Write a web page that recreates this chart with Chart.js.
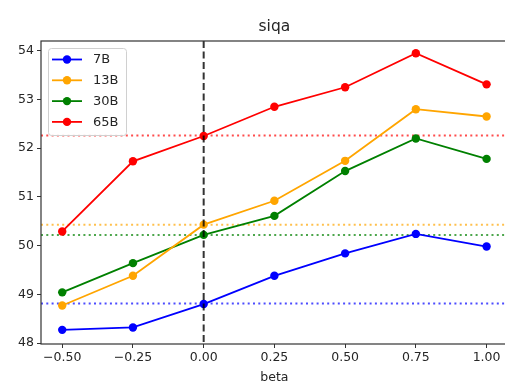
<!DOCTYPE html>
<html>
<head>
<meta charset="utf-8">
<script src="https://cdn.jsdelivr.net/npm/chart.js@4"></script>
<style>
  html, body { margin: 0; padding: 0; background: #fff; overflow: hidden; }
  #wrap { width: 512px; height: 388px; }
</style>
</head>
<body>
<div id="wrap"><canvas id="chart" width="512" height="388"></canvas></div>
<script>
const betas = [-0.5, -0.25, 0, 0.25, 0.5, 0.75, 1.0];
const labels = ["7B", "13B", "30B", "65B"];
const colors = ["#0000ff", "#ffa500", "#008000", "#ff0000"];
const baseColors = ["rgba(0,0,255,0.7)", "rgba(255,165,0,0.7)", "rgba(0,128,0,0.7)", "rgba(255,0,0,0.7)"];

const s7B  = [48.27, 48.32, 48.80, 49.38, 49.84, 50.24, 49.98];
const s13B = [48.77, 49.38, 50.43, 50.92, 51.74, 52.80, 52.65];
const s30B = [49.04, 49.64, 50.22, 50.61, 51.53, 52.20, 51.78];
const s65B = [50.29, 51.73, 52.25, 52.85, 53.25, 53.95, 53.31];
const series = [s7B, s13B, s30B, s65B];

// beta = 0 reference values (dotted lines)
const baselines = [48.81, 50.43, 50.22, 52.26];

const yTicks = [48, 49, 50, 51, 52, 53, 54];
const xTicks = [-0.5, -0.25, 0, 0.25, 0.5, 0.75, 1.0];

const FONT = "DejaVu Sans";
const TXT = "#262626";

const overlay = {
  id: "overlay",
  beforeDatasetsDraw(chart) {
    const { ctx, chartArea: a, scales: { y } } = chart;
    ctx.save();
    ctx.lineWidth = 2;
    ctx.setLineDash([2, 3.3]);
    baselines.forEach((b, i) => {
      const py = y.getPixelForValue(b);
      ctx.strokeStyle = baseColors[i];
      ctx.beginPath();
      ctx.moveTo(a.left, py);
      ctx.lineTo(a.right, py);
      ctx.stroke();
    });
    ctx.restore();
  },
  afterDatasetsDraw(chart) {
    const { ctx, chartArea: a, scales: { x } } = chart;
    ctx.save();
    // vertical dashed line at beta = 0
    const px = x.getPixelForValue(0);
    ctx.strokeStyle = "rgba(0,0,0,0.8)";
    ctx.lineWidth = 2;
    ctx.setLineDash([7, 3.5]);
    ctx.beginPath();
    ctx.moveTo(px, a.top);
    ctx.lineTo(px, a.bottom);
    ctx.stroke();
    ctx.setLineDash([]);

    // frame
    ctx.strokeStyle = "#333";
    ctx.lineWidth = 1.2;
    ctx.strokeRect(a.left, a.top, a.right - a.left, a.bottom - a.top);

    // legend
    const lx = 48, ly = 48, lw = 78, lh = 87;
    ctx.fillStyle = "rgba(255,255,255,0.85)";
    ctx.strokeStyle = "#d0d0d0";
    ctx.lineWidth = 1;
    ctx.beginPath();
    ctx.roundRect(lx + 0.5, ly + 0.5, lw, lh, 3);
    ctx.fill();
    ctx.stroke();
    ctx.font = "13px '" + FONT + "'";
    ctx.textBaseline = "middle";
    labels.forEach((lab, i) => {
      const cy = ly + 11.5 + i * 20.8;
      ctx.strokeStyle = colors[i];
      ctx.lineWidth = 1.8;
      ctx.beginPath();
      ctx.moveTo(lx + 4, cy);
      ctx.lineTo(lx + 34, cy);
      ctx.stroke();
      ctx.fillStyle = colors[i];
      ctx.beginPath();
      ctx.arc(lx + 19, cy, 4.2, 0, Math.PI * 2);
      ctx.fill();
      ctx.fillStyle = TXT;
      ctx.fillText(lab, lx + 45, cy + 0.5);
    });

    // title
    ctx.font = "15.5px '" + FONT + "'";
    ctx.textAlign = "center";
    ctx.textBaseline = "alphabetic";
    ctx.fillStyle = TXT;
    ctx.fillText("siqa", (a.left + a.right) / 2, 31);
    ctx.restore();
  }
};

const datasets = series.map((vals, i) => ({
  label: labels[i],
  data: vals.map((v, j) => ({ x: betas[j], y: v })),
  borderColor: colors[i],
  backgroundColor: colors[i],
  pointBackgroundColor: colors[i],
  pointBorderColor: colors[i],
  borderWidth: 1.8,
  pointRadius: 4.2,
  pointBorderWidth: 0,
  tension: 0
}));

new Chart(document.getElementById("chart"), {
  type: "line",
  data: { datasets },
  options: {
    responsive: false,
    animation: false,
    events: [],
    layout: { padding: { top: 41, right: 3, left: 0, bottom: 0 } },
    plugins: { legend: { display: false }, title: { display: false }, tooltip: { enabled: false } },
    scales: {
      x: {
        type: "linear",
        min: -0.575,
        max: 1.075,
        afterFit(s) { s.height = 44; },
        afterBuildTicks(s) { s.ticks = xTicks.map(v => ({ value: v })); },
        border: { display: false },
        grid: { drawOnChartArea: false, drawTicks: true, tickLength: 4, color: "#333", tickWidth: 1 },
        ticks: {
          color: TXT,
          font: { family: FONT, size: 12.5 },
          padding: 2,
          maxRotation: 0,
          callback: v => v.toFixed(2).replace("-", "\u2212")
        },
        title: {
          display: true,
          text: "beta",
          color: TXT,
          font: { family: FONT, size: 12.5 },
          padding: { top: 0, bottom: 3 }
        }
      },
      y: {
        type: "linear",
        min: 47.98,
        max: 54.2,
        afterFit(s) { s.width = 41; },
        afterBuildTicks(s) { s.ticks = yTicks.map(v => ({ value: v })); },
        border: { display: false },
        grid: { drawOnChartArea: false, drawTicks: true, tickLength: 4, color: "#333", tickWidth: 1 },
        ticks: {
          color: TXT,
          font: { family: FONT, size: 12.5 },
          padding: 3,
          callback: v => String(v)
        }
      }
    }
  },
  plugins: [overlay]
});
</script>
</body>
</html>
